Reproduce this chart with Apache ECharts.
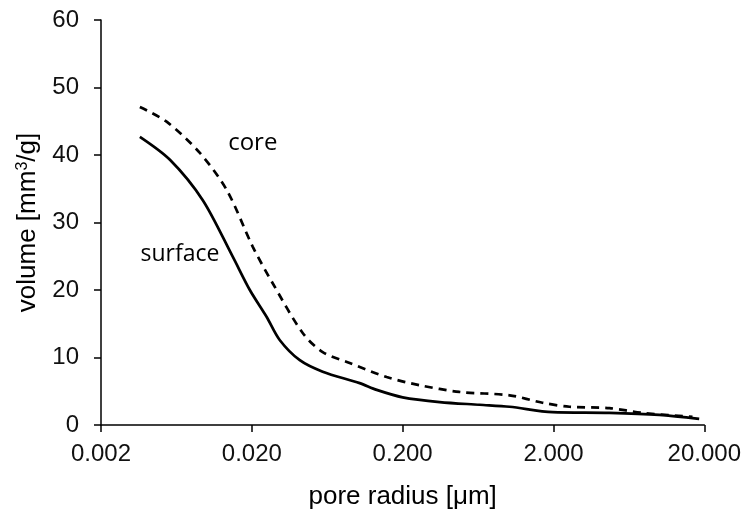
<!DOCTYPE html>
<html><head><meta charset="utf-8">
<script src="https://cdn.jsdelivr.net/npm/echarts@6/dist/echarts.min.js"></script>
<style>html,body{margin:0;padding:0;background:#fff}#c{width:744px;height:516px}</style>
</head><body><div id="c"></div>
<script>
// pore radius [µm] and volume [mm3/g]
const surfaceRadius = [0.00362,0.00573,0.00946,0.01497,0.0194,0.0251,0.0306,0.0416,0.0590,0.1038,0.1346,0.2,0.352,0.647,1.023,1.97,4.70,10.07,18.5];
const surfaceVolume = [42.7,39.3,33.3,24.9,20.0,16.0,12.6,9.6,7.9,6.2,5.2,4.1,3.4,3.0,2.7,1.9,1.8,1.5,0.9];
const coreRadius = [0.00362,0.00547,0.00905,0.01365,0.0203,0.0275,0.0436,0.0590,0.0891,0.1567,0.259,0.476,1.023,1.69,2.55,4.70,7.77,16.7];
const coreVolume = [47.1,44.9,40.3,34.8,26.4,21.0,13.6,10.8,9.2,7.1,5.9,4.9,4.4,3.3,2.7,2.5,1.8,1.2];
const xTickLabels = ['0.002','0.020','0.200','2.000','20.000'];
const yTickLabels = ['0','10','20','30','40','50','60'];
const seriesNames = ['surface','core'];

const X0 = 0.002;
const toX = v => Math.log10(v / X0);
const pairs = (xs, ys) => xs.map((x,i)=>[toX(x), ys[i]]);

const font = 'Liberation Sans, Arial, sans-serif';
const chart = echarts.init(document.getElementById('c'), null, {renderer:'canvas'});
chart.setOption({
  animation:false,
  grid:{left:101,right:39,top:20,bottom:91,containLabel:false},
  xAxis:{
    type:'value', min:0, max:4, interval:1,
    name:'pore radius [\u03bcm]', nameLocation:'middle', nameGap:59,
    nameTextStyle:{fontFamily:font,fontSize:26,color:'#000'},
    axisLine:{lineStyle:{color:'#000',width:1.5}},
    axisTick:{show:true,length:7,lineStyle:{color:'#000',width:1.5}},
    axisLabel:{fontFamily:font,fontSize:24,color:'#111',margin:17,
      formatter:(v)=>xTickLabels[Math.round(v)]},
    splitLine:{show:false}
  },
  yAxis:{
    type:'value', min:0, max:60, interval:10,
    name:'volume [mm{sup|3}/g]', nameLocation:'middle', nameGap:60,
    nameTextStyle:{fontFamily:font,fontSize:26,color:'#000',
      rich:{sup:{fontFamily:font,fontSize:16,color:'#000',verticalAlign:'top',padding:[0,0,10,0]}}},
    axisLine:{show:true,lineStyle:{color:'#000',width:1.5}},
    axisTick:{show:true,length:7,lineStyle:{color:'#000',width:1.5}},
    axisLabel:{fontFamily:font,fontSize:24,color:'#111',margin:22,
      formatter:(v)=>yTickLabels[Math.round(v/10)]},
    splitLine:{show:false}
  },
  series:[
    {name:seriesNames[0],type:'line',data:pairs(surfaceRadius,surfaceVolume),smooth:0.3,showSymbol:false,
     lineStyle:{color:'#000',width:2.7,type:'solid'}},
    {name:seriesNames[1],type:'line',data:pairs(coreRadius,coreVolume),smooth:0.3,showSymbol:false,
     lineStyle:{color:'#000',width:2.7,type:[8,6]}}
  ]
});
const pCore = chart.convertToPixel({gridIndex:0},[toX(0.0203),41.8]);
const pSurf = chart.convertToPixel({gridIndex:0},[toX(0.00667),25.3]);
chart.setOption({graphic:[
  {type:'text',x:pCore[0],y:pCore[1],style:{text:seriesNames[1],fontFamily:'Open Sans, Lato, sans-serif',fontSize:24,fill:'#000',align:'center',verticalAlign:'middle'}},
  {type:'text',x:pSurf[0],y:pSurf[1],style:{text:seriesNames[0],fontFamily:'Open Sans, Lato, sans-serif',fontSize:23,fill:'#000',align:'center',verticalAlign:'middle'}}
]});
</script></body></html>
